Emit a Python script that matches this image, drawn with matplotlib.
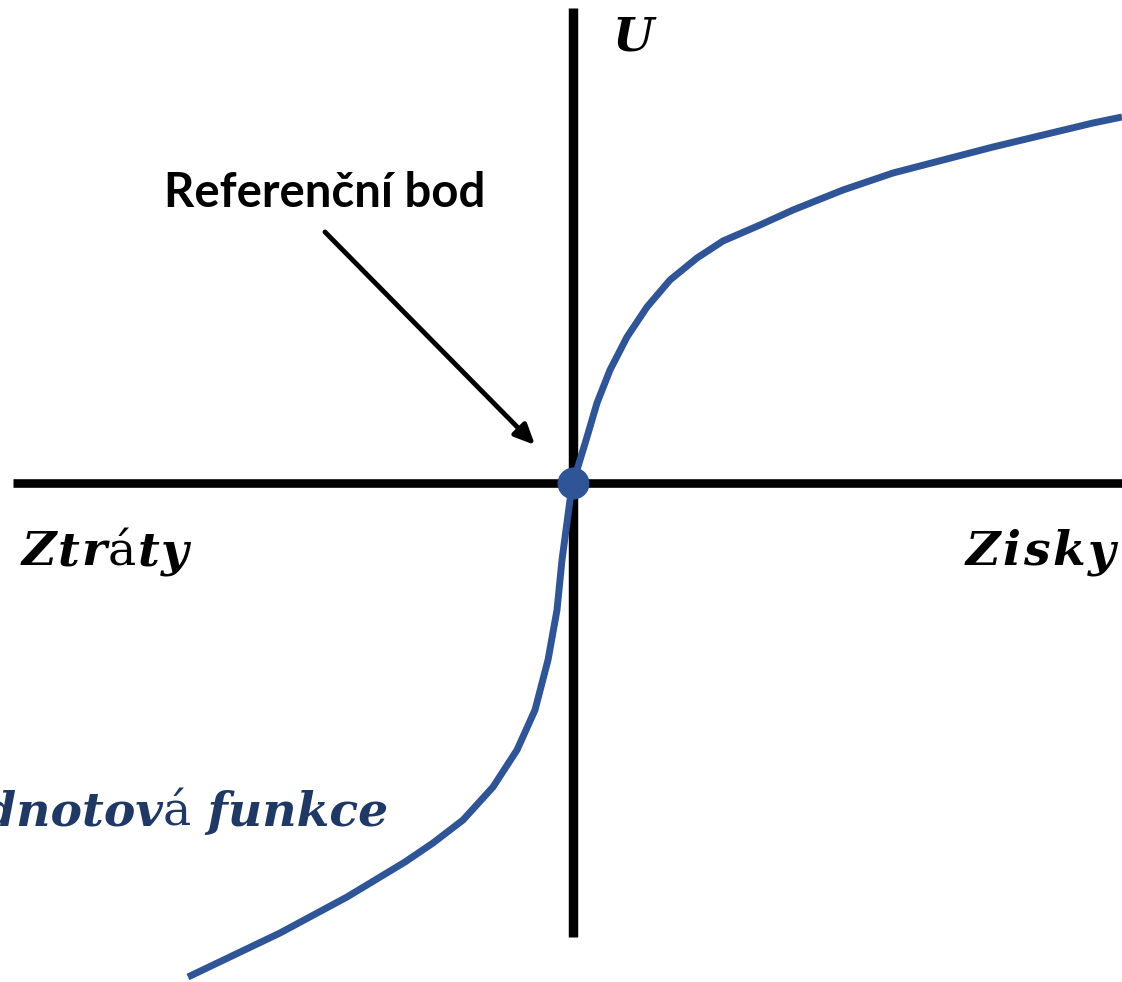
import matplotlib
matplotlib.use("Agg")
import matplotlib.pyplot as plt

# value function (origin = reference point)
loss_x = [-385, -293, -226, -168, -140, -110, -80, -56, -38, -25, -16, -11, -7, -3, 0]
loss_v = [-494, -450, -414, -379, -360, -337, -304, -267, -227, -177, -127, -77, -47, -17, 0]
gain_x = [0, 14, 24, 37, 54, 74, 97, 124, 150, 187, 220, 270, 320, 370, 420, 470, 520, 549]
gain_v = [0, 46, 80, 113, 146, 176, 203, 225, 242, 258, 273, 293, 310, 323, 336, 348, 360, 366]

ref_point = (0, 0)
x_range = (-573, 549)
y_range = (-499, 483)

BLUE = "#2F5597"
NAVY = "#1F3864"


def rich_text(ax, x, y, pieces, ha="left", spacing=0.0, **common):
    """Draw differently styled pieces on one baseline (spacing in px between chars)."""
    renderer = ax.figure.canvas.get_renderer()
    arts = []
    for txt, style in pieces:
        chars = list(txt) if spacing else [txt]
        for ch in chars:
            kw = dict(common)
            kw.update(style)
            arts.append(ax.text(0, 0, ch, va="baseline", ha="left", **kw))
    widths = [a.get_window_extent(renderer).width + spacing for a in arts]
    widths[-1] -= spacing
    x0, y0 = ax.transData.transform((x, y))
    if ha == "right":
        x0 -= sum(widths)
    inv = ax.transData.inverted()
    for a, w in zip(arts, widths):
        a.set_position(inv.transform((x0, y0)))
        x0 += w
    return arts


fig = plt.figure(figsize=(11.22, 9.82), dpi=100)
ax = fig.add_axes([0, 0, 1, 1])
ax.set_xlim(*x_range)
ax.set_ylim(*y_range)
ax.axis("off")

# axes
ax.plot([-560, 549], [0, 0], color="black", lw=6.2, solid_capstyle="butt", zorder=2)
ax.plot([0, 0], [-454, 475], color="black", lw=6.8, solid_capstyle="butt", zorder=2)

# curve
ax.plot(loss_x + gain_x[1:], loss_v + gain_v[1:], color=BLUE, lw=5, zorder=3,
        solid_capstyle="butt", solid_joinstyle="round")
ax.plot(*ref_point, "o", color=BLUE, ms=22, zorder=4)

# arrow to reference point
ax.annotate("", xy=(-38, 38), xytext=(-248, 251),
            arrowprops=dict(arrowstyle="-|>,head_length=1.2,head_width=0.55",
                            color="black", lw=3.5, shrinkA=0, shrinkB=0))
ax.text(-248, 276, "Referenční bod", fontsize=34, fontweight="bold",
        family="Lato", ha="center", va="baseline", color="black")

bi = dict(fontweight="bold", fontstyle="italic")
up = dict(fontweight="normal", fontstyle="normal")
serif = dict(family="DejaVu Serif", fontsize=34)

rich_text(ax, 39, 433, [("U", bi)], color="black", **serif)
rich_text(ax, -551, -82, [("Ztr", bi), ("á", up), ("ty", bi)], spacing=1.5,
          color="black", **serif)
rich_text(ax, 542, -82, [("Zisky", bi)], ha="right", spacing=2.5,
          color="black", **serif)
rich_text(ax, -185, -343, [("Hodnotov", bi), ("á", up), (" funkce", bi)],
          ha="right", color=NAVY, **serif)

fig.savefig("out.png", dpi=100)
